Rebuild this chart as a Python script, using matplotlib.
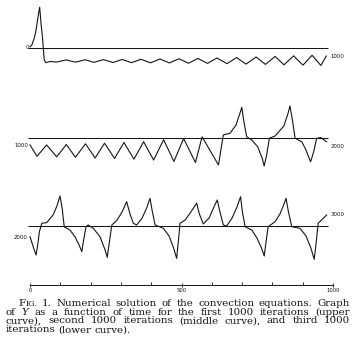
import matplotlib
matplotlib.use("Agg")
import matplotlib.pyplot as plt

# ── Data (time in iterations, Y in model units) ──────────────────────────────
UPPER_T = [0, 6, 14, 20, 25, 29, 32, 36, 41, 47, 52, 66, 88,
           119, 150, 182, 211, 243, 274, 304, 335, 366, 398, 429, 460,
           492, 523, 554, 586, 617, 650, 682, 713, 746, 777, 809, 838,
           870, 901, 931, 960, 978]
UPPER_Y = [1.0, 2.3, 6.9, 12.6, 19.5, 25.0, 28.3, 18.0, 8.0, -8.0, -9.9, -9.1, -9.5,
           -8.0, -9.6, -7.9, -9.7, -7.8, -9.8, -7.7, -9.9, -7.6, -10.0, -7.4, -10.1,
           -7.2, -10.3, -7.0, -10.4, -6.7, -10.6, -6.4, -10.9, -6.0, -11.1, -5.6, -11.4,
           -5.2, -11.6, -4.8, -11.8, -5.3]

MIDDLE_T = [0, 23, 55, 88, 120, 150, 183, 215, 246, 279, 310, 343, 375, 408,
            441, 475, 507, 546, 568, 622, 638, 660, 680, 691, 699, 705, 715,
            732, 752, 766, 773, 781, 790, 809, 838, 851, 858, 866, 875, 897,
            911, 921, 926, 936, 946, 960, 979]
MIDDLE_Y = [-5.0, -12.8, -5.0, -13.2, -4.7, -13.5, -4.2, -14.0, -3.8, -14.3, -3.3, -14.8, -2.8, -15.4,
            -1.4, -16.4, -0.6, -17.1, 0.6, -18.8, 1.9, 3.0, 8.8, 15.7, 21.0, 12.2, 0.7,
            -1.6, -6.4, -14.0, -19.5, -11.9, -0.4, 1.2, 8.1, 16.4, 21.9, 12.2, -0.4, -2.8,
            -8.5, -14.0, -16.6, -9.9, -0.4, 0.1, -2.8]

LOWER_T = [0, 12, 20, 25, 31, 39, 55, 76, 89, 99, 106, 113, 132, 149, 162, 171,
           177, 185, 192, 209, 231, 248, 255, 262, 270, 286, 304, 319, 330, 341,
           352, 370, 385, 396, 404, 413, 440, 459, 474, 484, 490, 495, 512, 531,
           550, 559, 572, 591, 607, 618, 627, 638, 649, 667, 683, 695, 701, 710,
           732, 749, 764, 773, 779, 786, 809, 825, 837, 845, 853, 864, 891, 911,
           927, 938, 944, 951, 968, 979]
LOWER_Y = [-7.4, -15.2, -20.0, -13.8, -3.9, 1.9, 2.3, 7.6, 13.8, 20.7, 12.4, -0.5, -2.8, -7.6, -13.1, -17.7,
           -9.7, -0.5, 0.7, -1.6, -7.4, -16.6, -21.6, -11.0, 0.7, 3.7, 9.7, 16.8, 8.3, 1.9,
           0.7, 5.5, 12.4, 19.1, 9.7, 0.7, -1.6, -6.9, -15.2, -22.3, -9.7, 1.9, 4.1, 9.7,
           15.7, 8.3, 1.4, 5.5, 13.1, 17.9, 9.7, 0.7, 0.0, 5.5, 13.1, 20.2, 9.7, -0.5,
           -2.8, -8.3, -15.2, -20.7, -11.0, -0.5, 3.0, 8.3, 14.5, 19.1, 9.7, -0.5, -1.6, -6.9,
           -15.2, -23.0, -12.4, 1.9, 5.3, 7.6]

START_LABELS = ["0", "1000", "2000"]
END_LABELS = ["1000", "2000", "3000"]

TIME_MAJOR = [0, 500, 1000]
TIME_MINOR = [100, 200, 300, 400, 600, 700, 800, 900]
TIME_LABELS = ["0", "500", "1000"]

CAPTION_LINES = [
    "FIG. 1. Numerical solution of the convection equations. Graph",
    "of Y as a function of time for the first 1000 iterations (upper",
    "curve), second 1000 iterations (middle curve), and third 1000",
    "iterations (lower curve).",
]

# ── Layout (pixels of the 358 x 352 output) ──────────────────────────────────
W_PX, H_PX = 358, 352
X0_PX, X1_PX = 30, 333
PX_PER_UNIT = 1.45
INK = "#151515"
LABEL_SIZE = 3.9
CAP_SIZE = 7.4

fig = plt.figure(figsize=(W_PX / 100, H_PX / 100), dpi=100, facecolor="white")


def curve_axes(top_px, bottom_px, base_px):
    ax = fig.add_axes([X0_PX / W_PX, 1 - bottom_px / H_PX,
                       (X1_PX - X0_PX) / W_PX, (bottom_px - top_px) / H_PX])
    ax.set_xlim(0, 1000)
    ax.set_ylim((base_px - bottom_px) / PX_PER_UNIT, (base_px - top_px) / PX_PER_UNIT)
    ax.axis("off")
    return ax


# panel boxes: (top, bottom, baseline) in pixels; label spots in data units
panels = [
    (0, 72, 48.3, UPPER_T, UPPER_Y, (-4, 0.6), (992, -6.0)),
    (95, 175, 137.7, MIDDLE_T, MIDDLE_Y, (-5, -5.7), (993, -6.4)),
    (185, 270, 226.0, LOWER_T, LOWER_Y, (-8, -7.6), (991, 7.6)),
]

for i, (top, bot, base, t, y, lab0, lab1) in enumerate(panels):
    ax = curve_axes(top, bot, base)
    ax.hlines(0, -6, 985, color=INK, linewidth=0.75, clip_on=False)
    ax.plot(t, y, color=INK, linewidth=0.8, solid_joinstyle="round", clip_on=False)
    ax.text(lab0[0], lab0[1], START_LABELS[i], fontsize=LABEL_SIZE, ha="right", va="center",
            color=INK)
    ax.text(lab1[0], lab1[1], END_LABELS[i], fontsize=LABEL_SIZE, ha="left", va="center",
            color=INK)

# ── Time scale ───────────────────────────────────────────────────────────────
ax_t = fig.add_axes([X0_PX / W_PX, 1 - 285 / H_PX, (X1_PX - X0_PX) / W_PX, 8 / H_PX])
ax_t.set_xlim(0, 1000)
ax_t.patch.set_visible(False)
for side in ["top", "left", "right"]:
    ax_t.spines[side].set_visible(False)
ax_t.spines["bottom"].set_linewidth(0.7)
ax_t.spines["bottom"].set_color(INK)
ax_t.set_yticks([])
ax_t.set_xticks(TIME_MAJOR)
ax_t.set_xticklabels(TIME_LABELS)
ax_t.set_xticks(TIME_MINOR, minor=True)
ax_t.tick_params(which="major", direction="inout", length=3, width=0.6, color=INK,
                 labelsize=3.8, pad=0.8, labelcolor=INK)
ax_t.tick_params(which="minor", direction="in", length=2, width=0.6, color=INK)

# ── Caption, justified word by word ─────────────────────────────────────────
renderer = fig.canvas.get_renderer()


def word_parts(word):
    if word == "FIG.":
        return [("F", CAP_SIZE, "normal"), ("IG.", CAP_SIZE * 0.78, "normal")]
    if word == "Y":
        return [("Y", CAP_SIZE, "italic")]
    return [(word, CAP_SIZE, "normal")]


def set_line(text, x_left, x_right, base_px, justify=True):
    words = []
    for w in text.split():
        parts = []
        for s, size, style in word_parts(w):
            t = fig.text(0, 1 - base_px / H_PX, s, fontsize=size, style=style,
                         family="DejaVu Serif", ha="left", va="baseline", color=INK)
            parts.append((t, t.get_window_extent(renderer).width))
        words.append(parts)
    widths = [sum(p[1] for p in parts) for parts in words]
    space = 0.28 * CAP_SIZE * 100 / 72
    gap = space
    if justify:
        gap = max((x_right - x_left - sum(widths)) / (len(words) - 1), 1.5)
    x = x_left
    for parts in words:
        for t, w in parts:
            t.set_x(x / W_PX)
            x += w
        x += gap


set_line(CAPTION_LINES[0], 18, 350, 306)
set_line(CAPTION_LINES[1], 6, 350, 314.7)
set_line(CAPTION_LINES[2], 6, 350, 323.4)
set_line(CAPTION_LINES[3], 6, 350, 332.1, justify=False)

fig.savefig("out.png", dpi=100, facecolor="white")
